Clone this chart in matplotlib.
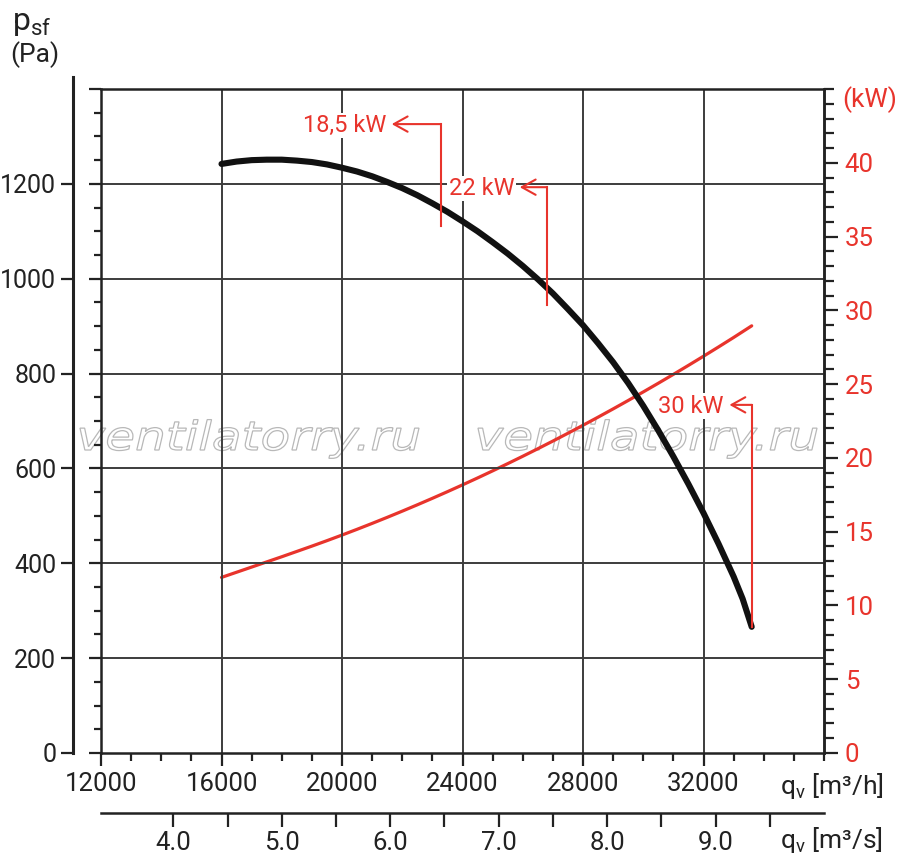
import numpy as np
import matplotlib.pyplot as plt
from matplotlib.ticker import FixedLocator, MultipleLocator
from matplotlib.textpath import TextPath
from matplotlib.font_manager import FontProperties
from matplotlib.patches import PathPatch
from matplotlib.transforms import Affine2D

plt.rcParams['font.family'] = ['Roboto', 'DejaVu Sans']
plt.rcParams['mathtext.fontset'] = 'custom'
plt.rcParams['mathtext.rm'] = 'Roboto'
plt.rcParams['mathtext.it'] = 'Roboto:italic'

# --- данные ---
q_pressure = [16000, 16500, 17000, 17500, 18000, 18500, 19000, 19500, 20000,
              20500, 21000, 21500, 22000, 22500, 23000, 23500, 24000, 24500,
              25000, 25500, 26000, 26500, 27000, 27500, 28000, 28500, 29000,
              29500, 30000, 30500, 31000, 31500, 32000, 32500, 33000, 33300,
              33600]
p_sf = [1242, 1247, 1250, 1251, 1251, 1249, 1246, 1241, 1234,
        1226, 1216, 1204, 1191, 1176, 1159, 1141, 1121, 1100,
        1077, 1053, 1027, 999, 969, 936, 902, 864, 824,
        780, 732, 680, 625, 567, 506, 441, 372, 325,
        266]

q_power = [16000, 16500, 17000, 17500, 18000, 18500, 19000, 19500, 20000,
           20500, 21000, 21500, 22000, 22500, 23000, 23500, 24000, 24500,
           25000, 25500, 26000, 26500, 27000, 27500, 28000, 28500, 29000,
           29500, 30000, 30500, 31000, 31500, 32000, 32500, 33000, 33600]
power_kw = [11.9, 12.25, 12.6, 12.95, 13.3, 13.66, 14.02, 14.39, 14.77,
            15.16, 15.56, 15.97, 16.39, 16.82, 17.26, 17.71, 18.17, 18.64,
            19.12, 19.61, 20.11, 20.62, 21.14, 21.67, 22.21, 22.76, 23.32,
            23.89, 24.47, 25.06, 25.66, 26.27, 26.89, 27.52, 28.16, 28.95]

# метки мощности двигателя
motor_labels = ['18,5 kW', '22 kW', '30 kW']
motor_q = [23280, 26800, 33600]        # вертикальная линия
motor_tip_q = [21650, 25900, 32860]    # острие стрелки
motor_p_top = [1326, 1193, 734]
motor_p_bottom = [1111, 945, 266]

q_h_ticks = [12000, 16000, 20000, 24000, 28000, 32000]
q_s_ticks = [4.0, 5.0, 6.0, 7.0, 8.0, 9.0]
p_ticks = [0, 200, 400, 600, 800, 1000, 1200]
kw_ticks = [0, 5, 10, 15, 20, 25, 30, 35, 40]

RED = '#e8342c'
DARK = '#222222'
GRID = '#3c3c3c'
FS = 18.5

fig = plt.figure(figsize=(9, 8.68), dpi=100)
W, H = 900, 868

ax = fig.add_axes([101 / W, 1 - 753 / H, (824 - 101) / W, (753 - 89) / H])
ax2 = ax.twinx()
ax.set_zorder(2)
ax2.set_zorder(1)
ax.patch.set_visible(False)

# основная ось давления (рамка)
ax.set_xlim(12000, 36000)
ax.set_ylim(0, 1400)
ax.xaxis.set_major_locator(FixedLocator(q_h_ticks))
ax.xaxis.set_minor_locator(MultipleLocator(1000))
ax.set_xticklabels([str(v) for v in q_h_ticks])
ax.yaxis.set_major_locator(MultipleLocator(200))
ax.yaxis.set_minor_locator(MultipleLocator(50))
ax.set_yticklabels([])
ax.tick_params(axis='x', which='major', direction='out', length=9, width=1.6,
               color=DARK, labelsize=FS, labelcolor=DARK, pad=5)
ax.tick_params(axis='x', which='minor', direction='out', length=6, width=1.6,
               color=DARK)
ax.tick_params(axis='y', which='major', direction='out', length=9, width=1.6,
               color=DARK)
ax.tick_params(axis='y', which='minor', direction='out', length=5, width=1.6,
               color=DARK)
for s in ax.spines.values():
    s.set_linewidth(1.8)
    s.set_color(DARK)

for q in q_h_ticks[1:]:
    ax.axvline(q, color=GRID, lw=1.4, zorder=1.5)
for p in p_ticks[1:]:
    ax.axhline(p, color=GRID, lw=1.4, zorder=1.5)

# правая ось мощности
ax2.set_ylim(0, 45)
ax2.yaxis.set_major_locator(FixedLocator(kw_ticks))
ax2.yaxis.set_minor_locator(MultipleLocator(1))
ax2.tick_params(axis='y', which='major', direction='out', length=10, width=1.6,
                color=DARK, labelsize=FS, labelcolor=RED, pad=5)
ax2.tick_params(axis='y', which='minor', direction='out', length=7, width=1.6,
                color=DARK)
for name, s in ax2.spines.items():
    s.set_visible(name == 'right')
    s.set_linewidth(1.8)
    s.set_color(DARK)

# кривые
ax2.plot(q_power, power_kw, color=RED, lw=2.3, solid_capstyle='round')
ax.plot(q_pressure, p_sf, color='#111111', lw=4.4, solid_capstyle='round',
        solid_joinstyle='round', zorder=4)

# метки мощности
for lab, q, tq, pt, pb in zip(motor_labels, motor_q, motor_tip_q,
                              motor_p_top, motor_p_bottom):
    ax.plot([q, q], [pb, pt], color=RED, lw=1.5, zorder=5)
    ax.annotate('', xy=(tq, pt), xytext=(q, pt),
                arrowprops=dict(arrowstyle='->,head_length=0.45,head_width=0.25',
                                color=RED, lw=1.5, mutation_scale=22,
                                shrinkA=0, shrinkB=0), zorder=5)
    ax.annotate(lab, xy=(tq, pt), xytext=(-4, -1), textcoords='offset points',
                ha='right', va='center', fontsize=17, color=RED, zorder=5,
                bbox=dict(fc='white', ec='none', pad=1.0))

# водяной знак (контурный текст, растянутый по ширине)
wm_path = TextPath((0, 0), 'ventilatorry.ru', size=40,
                   prop=FontProperties(family='DejaVu Sans', style='oblique'))
wm_ext = wm_path.get_extents()
sx = 339 / wm_ext.width
for x_left in [80, 478]:
    tr = Affine2D().translate(-wm_ext.x0, 0).scale(sx, 1).translate(x_left, H - 450)
    patch = PathPatch(wm_path, transform=tr, facecolor='none',
                      edgecolor='#b8b8b8', lw=0.9, zorder=0.5)
    fig.add_artist(patch)

# внешняя шкала давления
axp = fig.add_axes([73 / W, 1 - 753 / H, 0.001, (753 - 77) / H])
axp.set_ylim(0, 1400 * (753 - 77) / (753 - 89))
axp.patch.set_visible(False)
for name, s in axp.spines.items():
    s.set_visible(name == 'left')
axp.spines['left'].set_linewidth(2.2)
axp.spines['left'].set_color(DARK)
axp.set_xticks([])
axp.yaxis.set_major_locator(FixedLocator(p_ticks))
axp.tick_params(axis='y', direction='out', length=9, width=1.6, color=DARK,
                labelsize=18, labelcolor=DARK, pad=3)

# шкала м3/с
sec = ax.secondary_xaxis(-(813 - 753) / (753 - 89),
                         functions=(lambda q: q / 3600, lambda v: v * 3600))
sec.xaxis.set_major_locator(FixedLocator(q_s_ticks))
sec.xaxis.set_minor_locator(FixedLocator([v + 0.5 for v in q_s_ticks]))
sec.set_xticklabels(['%.1f' % v for v in q_s_ticks])
sec.tick_params(axis='x', which='both', direction='out', length=10, width=1.6,
                color=DARK, labelsize=FS, labelcolor=DARK, pad=3)
sec.spines['bottom'].set_linewidth(1.8)
sec.spines['bottom'].set_color(DARK)

# подписи осей
fig.text(12 / W, 1 - 30 / H, r'p$_{\rm sf}$', fontsize=23, color=DARK,
         ha='left', va='baseline')
fig.text(10 / W, 1 - 55 / H, '(Pa)', fontsize=19, color=DARK, ha='left',
         va='center')
fig.text(842 / W, 1 - 100 / H, '(kW)', fontsize=19, color=RED, ha='left',
         va='center')
fig.text(780 / W, 1 - 786 / H, r'q$_{\rm v}$ [m³/h]', fontsize=19,
         color=DARK, ha='left', va='center')
fig.text(780 / W, 1 - 840 / H, r'q$_{\rm v}$ [m³/s]', fontsize=19,
         color=DARK, ha='left', va='center')

fig.savefig('out.png', dpi=100, facecolor='white')
